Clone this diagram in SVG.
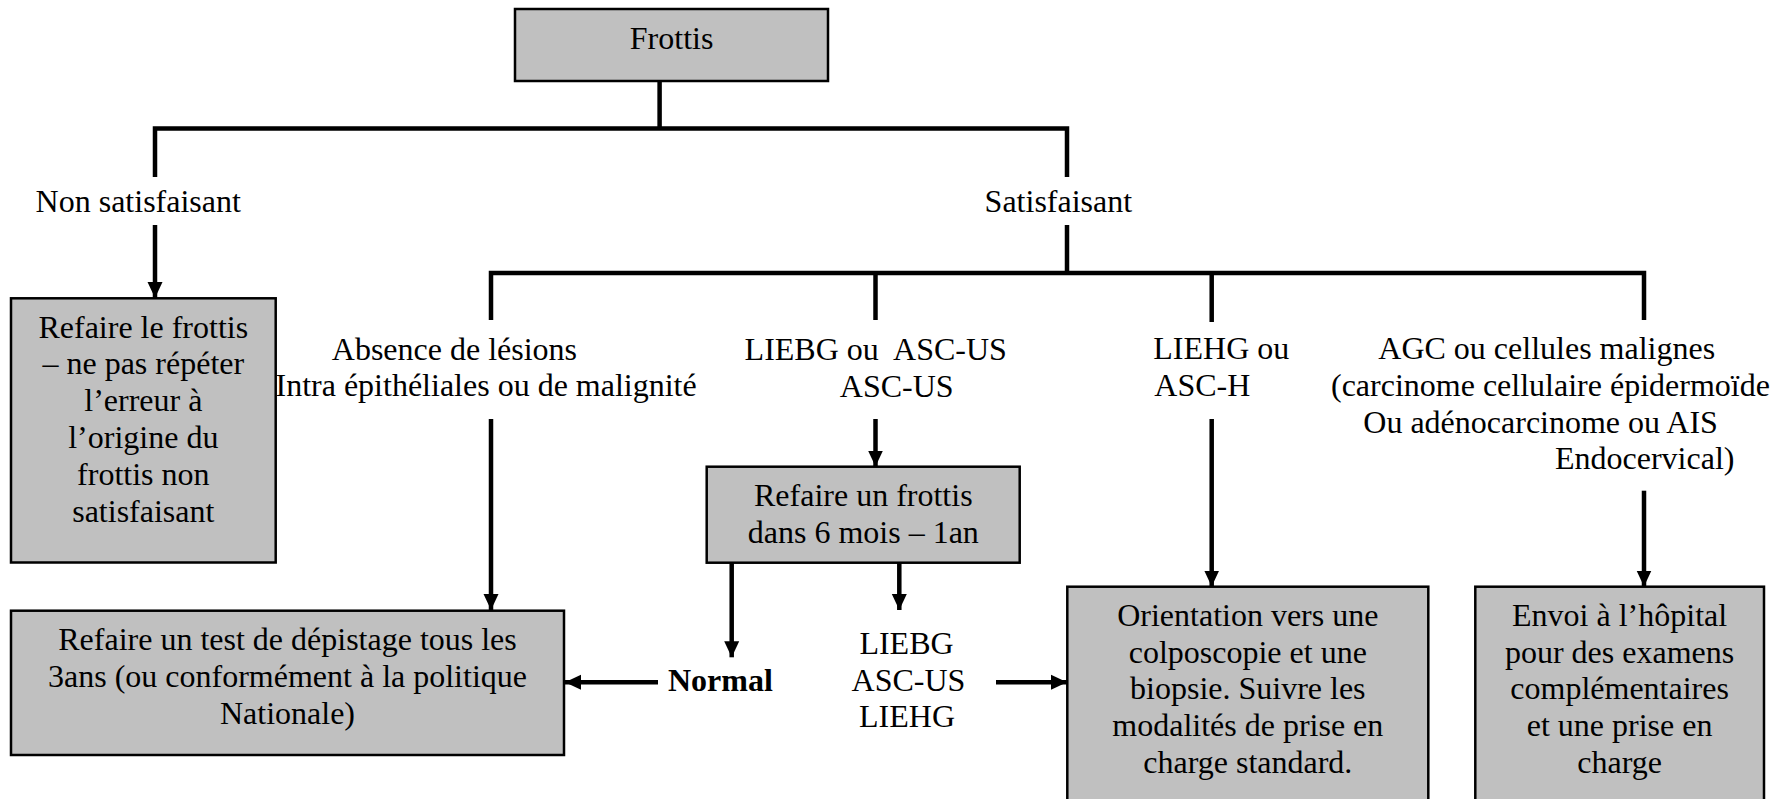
<svg xmlns="http://www.w3.org/2000/svg" width="1789" height="799" viewBox="0 0 1789 799">
<defs>
<style>
text{font-family:"Liberation Serif","Times New Roman",serif;font-size:32px;fill:#000;white-space:pre}
.c{text-anchor:middle}
.b{font-weight:bold}
.box{fill:#c0c0c0;stroke:#000;stroke-width:2.5}
.ln{fill:none;stroke:#000;stroke-width:4.5}
</style>
<marker id="ah" markerUnits="userSpaceOnUse" markerWidth="16" markerHeight="16" viewBox="0 0 16 16" refX="16" refY="8" orient="auto">
<path d="M0,0.5 L16,8 L0,15.5 z" fill="#000"/>
</marker>
</defs>
<rect width="1789" height="799" fill="#fff"/>

<g id="connectors">
<path class="ln" d="M659.6,81 V128.5"/>
<path class="ln" d="M155,177 V128.5 H1067 V177"/>
<path class="ln" d="M155,225 V298" marker-end="url(#ah)"/>
<path class="ln" d="M1067,225 V273"/>
<path class="ln" d="M491,320 V273 H1644 V320"/>
<path class="ln" d="M875.5,273 V320"/>
<path class="ln" d="M1211.7,273 V322"/>
<path class="ln" d="M491,419 V610" marker-end="url(#ah)"/>
<path class="ln" d="M875.5,419 V466.5" marker-end="url(#ah)"/>
<path class="ln" d="M1211.7,419 V586.5" marker-end="url(#ah)"/>
<path class="ln" d="M1644,490.7 V586.5" marker-end="url(#ah)"/>
<path class="ln" d="M731.7,562.7 V657.3" marker-end="url(#ah)"/>
<path class="ln" d="M899.3,562.7 V610" marker-end="url(#ah)"/>
<path class="ln" d="M658,682.3 H565" marker-end="url(#ah)"/>
<path class="ln" d="M996,682.3 H1067" marker-end="url(#ah)"/>
</g>

<g id="frottis">
<rect class="box" x="515" y="9" width="313" height="72"/>
<text class="c" x="671.6" y="49">Frottis</text>
</g>

<g id="non-satisfaisant">
<text x="35.6" y="211.7">Non satisfaisant</text>
</g>

<g id="satisfaisant">
<text x="984.6" y="211.7">Satisfaisant</text>
</g>

<g id="refaire-frottis">
<rect class="box" x="11" y="298.3" width="264.7" height="264.2"/>
<text class="c" x="143.3" y="337.5">Refaire le frottis</text>
<text class="c" x="143.3" y="374.4">– ne pas répéter</text>
<text class="c" x="143.3" y="411.4">l’erreur à</text>
<text class="c" x="143.3" y="448.3">l’origine du</text>
<text class="c" x="143.3" y="485.3">frottis non</text>
<text class="c" x="143.3" y="522.2">satisfaisant</text>
</g>

<g id="absence">
<text x="331.8" y="360">Absence de lésions</text>
<text x="275.5" y="395.5">Intra épithéliales ou de malignité</text>
</g>

<g id="liebg">
<text x="744.6" y="360">LIEBG ou  ASC-US</text>
<text x="839.8" y="396.5">ASC-US</text>
</g>

<g id="liehg">
<text x="1153.3" y="359.3">LIEHG ou</text>
<text x="1154.3" y="396">ASC-H</text>
</g>

<g id="agc">
<text x="1378.3" y="359.3">AGC ou cellules malignes</text>
<text x="1331" y="396">(carcinome cellulaire épidermoïde</text>
<text x="1363.3" y="432.5">Ou adénocarcinome ou AIS</text>
<text x="1555" y="469.3">Endocervical)</text>
</g>

<g id="refaire-6mois">
<rect class="box" x="706.7" y="466.7" width="313" height="96"/>
<text class="c" x="863.3" y="505.7">Refaire un frottis</text>
<text class="c" x="863.3" y="543.3">dans 6 mois – 1an</text>
</g>

<g id="depistage">
<rect class="box" x="11" y="610.7" width="553" height="144.3"/>
<text class="c" x="287.5" y="649.7">Refaire un test de dépistage tous les</text>
<text class="c" x="287.5" y="686.7">3ans (ou conformément à la politique</text>
<text class="c" x="287.5" y="723.7">Nationale)</text>
</g>

<g id="normal">
<text class="b" x="668" y="690.5">Normal</text>
</g>

<g id="liebg-list">
<text class="c" x="906.5" y="653.8">LIEBG</text>
<text class="c" x="908.5" y="690.5">ASC-US</text>
<text class="c" x="907" y="727.3">LIEHG</text>
</g>

<g id="orientation">
<rect class="box" x="1067.3" y="586.7" width="361" height="225"/>
<text class="c" x="1247.8" y="625.7">Orientation vers une</text>
<text class="c" x="1247.8" y="662.5">colposcopie et une</text>
<text class="c" x="1247.8" y="699.2">biopsie. Suivre les</text>
<text class="c" x="1247.8" y="736">modalités de prise en</text>
<text class="c" x="1247.8" y="772.8">charge standard.</text>
</g>

<g id="envoi">
<rect class="box" x="1475.3" y="586.7" width="288.7" height="225"/>
<text class="c" x="1619.6" y="625.7">Envoi à l’hôpital</text>
<text class="c" x="1619.6" y="662.5">pour des examens</text>
<text class="c" x="1619.6" y="699.2">complémentaires</text>
<text class="c" x="1619.6" y="736">et une prise en</text>
<text class="c" x="1619.6" y="772.8">charge</text>
</g>
</svg>
